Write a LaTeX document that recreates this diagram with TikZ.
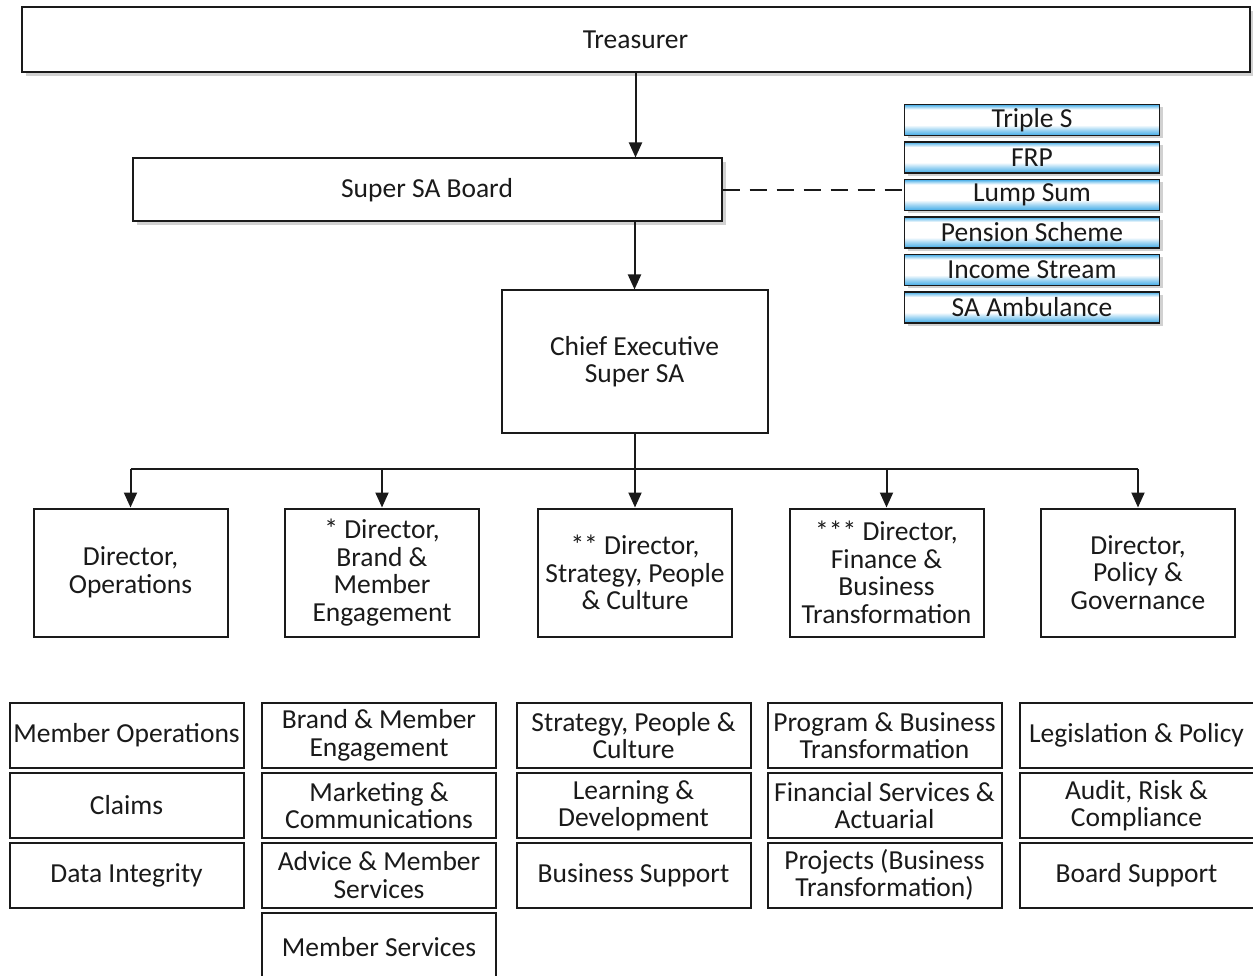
\documentclass[tikz,border=0pt]{standalone}
\usepackage{fontspec}
\setmainfont{Carlito}
\usetikzlibrary{arrows.meta,shadows}
\definecolor{skyb}{HTML}{3FAAE6}
\definecolor{ink}{HTML}{1A1A1A}
\pgfdeclareverticalshading{schemeshade}{100bp}{
  color(0bp)=(skyb); color(25bp)=(skyb); color(34bp)=(skyb!50!white);
  color(42bp)=(white); color(67bp)=(white); color(72bp)=(skyb!60!white); color(75bp)=(skyb);
  color(100bp)=(skyb)}
\tikzset{
  box/.style={draw=ink, line width=2pt, fill=white, align=center, inner sep=1pt,
    text=ink, font=\fontsize{27.5}{27.5}\selectfont},
  shbox/.style={box, drop shadow={opacity=0.3, shadow xshift=4pt, shadow yshift=-4pt, fill=black!60}},
  bluebox/.style={box, line width=1.8pt, minimum width=255pt, minimum height=31pt,
    shading=schemeshade,
    drop shadow={opacity=0.3, shadow xshift=3pt, shadow yshift=-3pt, fill=black!60}},
  dirbox/.style={box, minimum width=194pt, minimum height=128pt},
  unitbox/.style={box, minimum width=234pt, minimum height=65pt},
  arr/.style={draw=ink, line width=2pt, -{Triangle[width=13pt,length=15pt]}},
  conn/.style={draw=ink, line width=2pt},
}
\begin{document}
\begin{tikzpicture}[x=1pt, y=-1pt]
\useasboundingbox (0,0) rectangle (1253,976);
\clip (0,0) rectangle (1253,976);
% top
\node[shbox, minimum width=1228pt, minimum height=65pt] (treas) at (635.5,40) {Treasurer};
\node[shbox, minimum width=589pt, minimum height=63pt] (board) at (427,190) {Super SA Board};
\node[box, minimum width=266pt, minimum height=142pt] (ce) at (634.5,361.5) {Chief Executive\\Super SA};
% schemes
\node[bluebox] (s1) at (1032,120) {Triple S};
\node[bluebox] (s2) at (1032,157.5) {FRP};
\node[bluebox] (s3) at (1032,195) {Lump Sum};
\node[bluebox] (s4) at (1032,232.5) {Pension Scheme};
\node[bluebox] (s5) at (1032,270) {Income Stream};
\node[bluebox] (s6) at (1032,307.5) {SA Ambulance};
% directors
\node[dirbox] (d1) at (130.5,572.5) {Director,\\Operations};
\node[dirbox] (d2) at (382,572.5) {* Director,\\Brand \&\\Member\\Engagement};
\node[dirbox] (d3) at (635,572.5) {** Director,\\Strategy, People\\\& Culture};
\node[dirbox] (d4) at (886.5,572.5) {*** Director,\\Finance \&\\Business\\Transformation};
\node[dirbox] (d5) at (1138,572.5) {Director,\\Policy \&\\Governance};
% units column 1
\node[unitbox] (u11) at (126.5,735.5) {Member Operations};
\node[unitbox] (u12) at (126.5,805.5) {Claims};
\node[unitbox] (u13) at (126.5,875) {Data Integrity};
% column 2
\node[unitbox] (u21) at (379,735.5) {Brand \& Member\\Engagement};
\node[unitbox] (u22) at (379,805.5) {Marketing \&\\Communications};
\node[unitbox] (u23) at (379,875) {Advice \& Member\\Services};
\node[unitbox, minimum height=68pt] (u24) at (379,947) {Member Services};
% column 3
\node[unitbox] (u31) at (633.5,735.5) {Strategy, People \&\\Culture};
\node[unitbox] (u32) at (633.5,805.5) {Learning \&\\Development};
\node[unitbox] (u33) at (633.5,875) {Business Support};
% column 4
\node[unitbox] (u41) at (884.5,735.5) {Program \& Business\\Transformation};
\node[unitbox] (u42) at (884.5,805.5) {Financial Services \&\\Actuarial};
\node[unitbox] (u43) at (884.5,875) {Projects (Business\\Transformation)};
% column 5
\node[unitbox] (u51) at (1136.5,735.5) {Legislation \& Policy};
\node[unitbox] (u52) at (1136.5,805.5) {Audit, Risk \&\\Compliance};
\node[unitbox] (u53) at (1136.5,875) {Board Support};
% connectors
\draw[arr] (treas.south) -- (treas.south |- board.north);
\draw[arr] (board.south -| ce.north) -- (ce.north);
\draw[conn, dashed, dash pattern=on 17pt off 10pt] (board.east) -- (board.east -| s3.west);
\coordinate (bus) at (ce.south |- 0,469);
\draw[conn] (ce.south) -- (bus);
\draw[conn] (bus -| d1.north) -- (bus -| d5.north);
\foreach \d in {d1,d2,d3,d4,d5}{
  \draw[arr] (bus -| \d.north) -- (\d.north);
}
\end{tikzpicture}
\end{document}
